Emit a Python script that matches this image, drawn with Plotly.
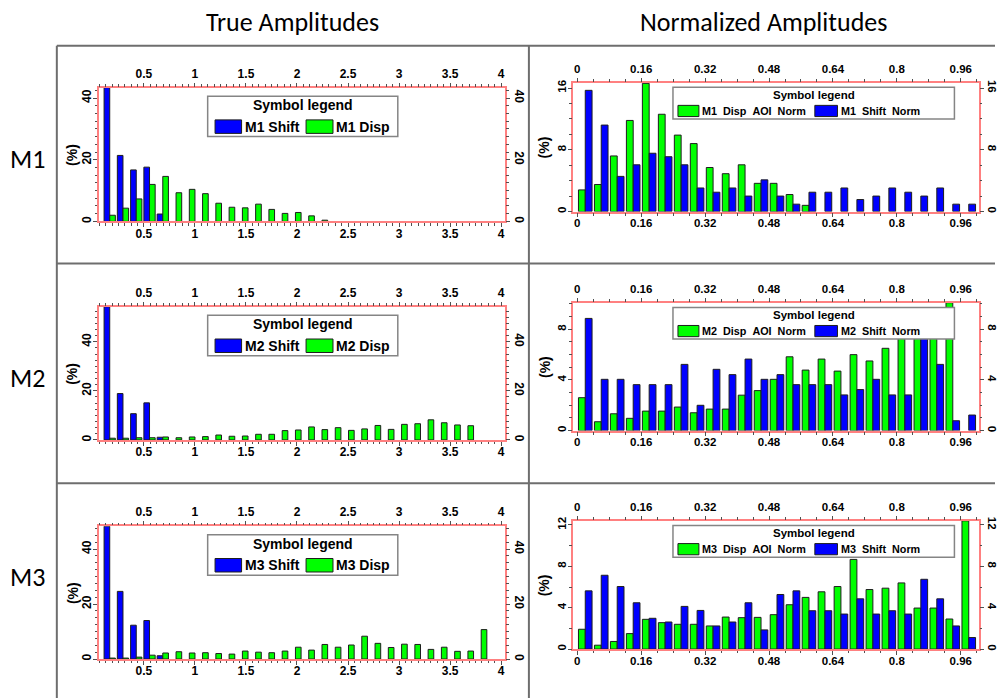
import plotly.graph_objects as go

# ---------------------------------------------------------------- bins
true_bins = [0.165, 0.295, 0.425, 0.555, 0.685, 0.815, 0.945, 1.075, 1.205, 1.335,
             1.465, 1.595, 1.725, 1.855, 1.985, 2.115, 2.245, 2.375, 2.505, 2.635,
             2.765, 2.895, 3.025, 3.155, 3.285, 3.415, 3.545, 3.675, 3.805, 3.935]
norm_bins = [0.02, 0.06, 0.10, 0.14, 0.18, 0.22, 0.26, 0.30, 0.34, 0.38, 0.42, 0.46,
             0.50, 0.54, 0.58, 0.62, 0.66, 0.70, 0.74, 0.78, 0.82, 0.86, 0.90, 0.94, 0.98]

# ---------------------------------------------------------------- true amplitudes (%)
m1_shift = [43.4, 21.4, 16.7, 17.6, 2.4]
m1_disp = [2.0, 4.3, 7.3, 12.0, 14.6, 9.3, 10.4, 9.0, 5.9, 4.6, 4.4, 5.6, 3.9, 2.6,
           2.9, 1.8, 0.4]

m2_shift = [54.3, 18.9, 10.7, 15.1, 1.1]
m2_disp = [0.7, 0.7, 0.9, 0.9, 1.2, 0.9, 1.2, 1.35, 2.0, 1.5, 1.6, 2.3, 2.3, 3.8,
           4.05, 5.3, 4.2, 5.0, 3.9, 4.5, 5.9, 4.3, 6.35, 6.6, 8.2, 7.0, 6.1, 5.8]

m3_shift = [48.3, 24.6, 12.3, 14.0, 1.2]
m3_disp = [0.35, 0.35, 0.7, 1.4, 2.2, 2.65, 2.2, 2.3, 2.0, 1.8, 2.9, 2.5, 2.3, 2.9,
           4.3, 3.25, 5.3, 4.3, 5.1, 8.3, 5.7, 4.2, 5.4, 5.3, 3.5, 4.3, 2.8, 2.9, 10.7]

# ---------------------------------------------------------------- normalized amplitudes (%)
m1n_disp = [2.8, 3.5, 7.2, 11.8, 16.6, 12.6, 9.9, 8.8, 5.7, 4.9, 6.05, 3.65, 3.65,
            2.2, 0.8]
m1n_shift = [15.7, 11.2, 4.55, 6.05, 7.55, 7.1, 6.05, 3.05, 2.5, 3.05, 2.0, 4.1, 2.0,
             0.95, 2.5, 2.5, 3.05, 1.55, 2.0, 3.05, 2.5, 2.0, 3.05, 0.95, 0.95]

m2n_disp = [2.6, 0.7, 1.33, 0.97, 1.54, 1.54, 1.86, 1.41, 1.7, 1.7, 2.8, 3.16, 4.05,
            5.83, 4.78, 5.65, 4.7, 6.0, 5.5, 6.5, 7.8, 8.4, 9.0, 10.1]
m2n_shift = [8.86, 4.05, 4.05, 3.63, 3.63, 3.63, 5.23, 2.0, 4.84, 4.42, 5.65, 4.05,
             4.42, 3.63, 3.63, 3.63, 2.82, 3.24, 4.05, 2.82, 2.82, 7.6, 5.23, 0.78, 1.23]

m3n_disp = [1.92, 0.38, 0.74, 1.5, 2.88, 2.56, 2.4, 2.4, 2.24, 3.1, 3.04, 3.07, 3.33,
            4.29, 5.0, 5.54, 6.05, 8.67, 5.76, 5.89, 6.4, 3.97, 3.97, 2.91, 12.4]
m3n_shift = [5.63, 7.14, 6.05, 4.48, 2.98, 2.62, 4.13, 3.74, 2.24, 2.62, 4.48, 1.86,
             5.28, 5.63, 3.71, 3.71, 3.39, 4.86, 3.39, 3.71, 3.39, 6.75, 4.86, 2.24, 1.12]

# ---------------------------------------------------------------- labels
column_titles = ["True Amplitudes", "Normalized Amplitudes"]
row_labels = ["M1", "M2", "M3"]
true_ticks = [0.5, 1, 1.5, 2, 2.5, 3, 3.5, 4]
true_ticktext = ["0.5", "1", "1.5", "2", "2.5", "3", "3.5", "4"]
norm_ticks = [0, 0.16, 0.32, 0.48, 0.64, 0.8, 0.96]
norm_ticktext = ["0", "0.16", "0.32", "0.48", "0.64", "0.8", "0.96"]

# ---------------------------------------------------------------- styling
W, H = 998, 700
BLUE, GREEN = "#0000ff", "#00ff00"
FRAME = "#ff8080"
TICKC = "#505050"
BOXC = "#6e6e6e"
FONT = "Liberation Sans, Arial, sans-serif"
HEAD_FONT = "Carlito, Lato, sans-serif"
NB = "\u00a0"


def px(x):
    return x / W


def py(y):
    return 1 - y / H


def pad(vals, n):
    return list(vals) + [None] * (n - len(vals))


panels = [
    dict(kind="true", rect=(99.3, 84.3, 506.7, 219.3), ymax=43.4, dtick=20, minor=2.5,
         series=[("M1 Shift", BLUE, m1_shift), ("M1 Disp", GREEN, m1_disp)]),
    dict(kind="norm", rect=(575, 79.3, 981.7, 209.3), ymax=16.7, dtick=8, minor=2,
         series=[(f"M1 {NB}Disp {NB}AOI {NB}Norm", GREEN, m1n_disp),
                 (f"M1 {NB}Shift {NB}Norm", BLUE, m1n_shift)]),
    dict(kind="true", rect=(99.3, 305.3, 506.7, 439.7), ymax=54.3, dtick=20, minor=2.5,
         series=[("M2 Shift", BLUE, m2_shift), ("M2 Disp", GREEN, m2_disp)]),
    dict(kind="norm", rect=(575, 301.3, 981.7, 430.3), ymax=10.1, dtick=4, minor=1,
         series=[(f"M2 {NB}Disp {NB}AOI {NB}Norm", GREEN, m2n_disp),
                 (f"M2 {NB}Shift {NB}Norm", BLUE, m2n_shift)]),
    dict(kind="true", rect=(99.3, 526.7, 506.7, 660.7), ymax=48.3, dtick=20, minor=2.5,
         series=[("M3 Shift", BLUE, m3_shift), ("M3 Disp", GREEN, m3_disp)]),
    dict(kind="norm", rect=(575, 521.3, 981.7, 650.7), ymax=12.4, dtick=4, minor=2,
         series=[(f"M3 {NB}Disp {NB}AOI {NB}Norm", GREEN, m3n_disp),
                 (f"M3 {NB}Shift {NB}Norm", BLUE, m3n_shift)]),
]

fig = go.Figure()
layout = {}
shapes = []
annotations = []

for k, p in enumerate(panels, start=1):
    x0, y0, x1, y1 = p["rect"]
    true_kind = p["kind"] == "true"
    bins = true_bins if true_kind else norm_bins
    xrange = [0.06, 4.04] if true_kind else [-0.01, 1.005]
    tickvals = true_ticks if true_kind else norm_ticks
    ticktext = true_ticktext if true_kind else norm_ticktext
    xminor = 0.0625 if true_kind else 0.04
    fsize = 12 if true_kind else 11.5

    xa = "x" if k == 1 else f"x{k}"
    ya = "y" if k == 1 else f"y{k}"
    xk = "xaxis" if k == 1 else f"xaxis{k}"
    yk = "yaxis" if k == 1 else f"yaxis{k}"

    for name, color, vals in p["series"]:
        fig.add_trace(go.Bar(
            x=bins, y=pad(vals, len(bins)), name=name, xaxis=xa, yaxis=ya,
            marker=dict(color=color, line=dict(color="#1e1e1e", width=1)),
            showlegend=False))
    # empty trace that registers the mirrored top/right axes
    fig.add_trace(go.Scatter(x=[], y=[], xaxis=f"x{k + 6}", yaxis=f"y{k + 6}",
                             mode="markers", showlegend=False, hoverinfo="skip"))

    tickfont = dict(family=FONT, size=fsize, color="black", weight="bold")
    common_x = dict(range=xrange, tickmode="array", tickvals=tickvals, ticktext=ticktext,
                    ticks="outside", ticklen=4, tickwidth=1, tickcolor=TICKC,
                    tickfont=tickfont, showgrid=False, zeroline=False, fixedrange=True,
                    minor=dict(ticks="outside", ticklen=2.5, tickwidth=1, tickcolor=TICKC,
                               dtick=xminor, tick0=0, showgrid=False))
    common_y = dict(range=[0, p["ymax"]], tick0=0, dtick=p["dtick"],
                    ticks="outside", ticklen=4, tickwidth=1, tickcolor=TICKC,
                    tickfont=tickfont, showgrid=False, zeroline=False, fixedrange=True,
                    minor=dict(ticks="outside", ticklen=2.5, tickwidth=1, tickcolor=TICKC,
                               dtick=p["minor"], tick0=0, showgrid=False))

    layout[xk] = dict(domain=[px(x0), px(x1)], anchor=ya, side="bottom",
                      showline=True, linecolor=FRAME, linewidth=1.5, mirror=True,
                      ticklabelstandoff=-4, **common_x)
    layout[yk] = dict(domain=[py(y1), py(y0)], anchor=xa, side="left", tickangle=-90,
                      showline=True, linecolor=FRAME, linewidth=1.5, mirror=True,
                      ticklabelstandoff=-3, **common_y)
    layout[f"xaxis{k + 6}"] = dict(overlaying=xa, anchor=ya, side="top",
                                   showline=False, **common_x)
    layout[f"yaxis{k + 6}"] = dict(overlaying=ya, anchor=xa, side="right", tickangle=90,
                                   showline=False, **common_y)

    # y-axis caption
    annotations.append(dict(
        text="(%)", textangle=-90, xref="paper", yref="paper",
        x=px(x0 - (26.6 if true_kind else 29)), y=py((y0 + y1) / 2),
        showarrow=False, xanchor="center", yanchor="middle",
        font=dict(family=FONT, size=14, color="black", weight="bold")))

    # symbol legend box
    if true_kind:
        bx0, bx1, by0, by1 = x0 + 109, x0 + 299.7, y0 + 8.7, y0 + 49.4
        title_y, title_size = y0 + 17.7, 14
        entry_y, entry_h, entry_size = y0 + 39.4, 13.6, 14
        entries = [(x0 + 116.4, 26.6), (x0 + 207.7, 27)]
    else:
        bx0, bx1, by0, by1 = x0 + 100, x0 + 382.3, y0 + 4.7, y0 + 36.7
        title_y, title_size = y0 + 12.2, 11.5
        entry_y, entry_h, entry_size = y0 + 28.6, 11.3, 10.8
        entries = [(x0 + 105, 21), (x0 + 242.3, 22.7)]

    shapes.append(dict(type="rect", xref="paper", yref="paper", layer="above",
                       x0=px(bx0), x1=px(bx1), y0=py(by1), y1=py(by0),
                       fillcolor="white", line=dict(color="#858585", width=1.5)))
    annotations.append(dict(
        text="Symbol legend", xref="paper", yref="paper",
        x=px((bx0 + bx1) / 2), y=py(title_y), showarrow=False,
        xanchor="center", yanchor="middle",
        font=dict(family=FONT, size=title_size, color="black", weight="bold")))
    for (sx, sw), (name, color, _) in zip(entries, p["series"]):
        shapes.append(dict(type="rect", xref="paper", yref="paper", layer="above",
                           x0=px(sx), x1=px(sx + sw),
                           y0=py(entry_y + entry_h / 2), y1=py(entry_y - entry_h / 2),
                           fillcolor=color, line=dict(color="#1e1e1e", width=1)))
        annotations.append(dict(
            text=name, xref="paper", yref="paper",
            x=px(sx + sw + 1.5), y=py(entry_y), showarrow=False,
            xanchor="left", yanchor="middle",
            font=dict(family=FONT, size=entry_size, color="black", weight="bold")))

# panel frames
for x_a, y_a, x_b, y_b in [(57, 42, 998, 42), (57, 261.7, 998, 261.7),
                           (57, 483.5, 998, 483.5), (57, 42, 57, 700),
                           (530.5, 42, 530.5, 700)]:
    shapes.append(dict(type="line", xref="paper", yref="paper", layer="below",
                       x0=px(x_a), x1=px(x_b), y0=py(y_a), y1=py(y_b),
                       line=dict(color=BOXC, width=2)))

# column titles and row labels
for text, xc in zip(column_titles, [293.5, 766]):
    annotations.append(dict(text=text, xref="paper", yref="paper", x=px(xc), y=py(18),
                            showarrow=False, xanchor="center", yanchor="middle",
                            font=dict(family=HEAD_FONT, size=26, color="black")))
for text, yc in zip(row_labels, [156, 377, 578]):
    annotations.append(dict(text=text, xref="paper", yref="paper", x=px(28), y=py(yc),
                            showarrow=False, xanchor="center", yanchor="middle",
                            font=dict(family=HEAD_FONT, size=26, color="black")))

fig.update_layout(
    width=W, height=H, margin=dict(l=0, r=0, t=0, b=0),
    paper_bgcolor="white", plot_bgcolor="white",
    barmode="group", bargap=0.15, bargroupgap=0,
    showlegend=False, shapes=shapes, annotations=annotations,
    **layout)

fig.write_html("out.html", config=dict(displayModeBar=False))
